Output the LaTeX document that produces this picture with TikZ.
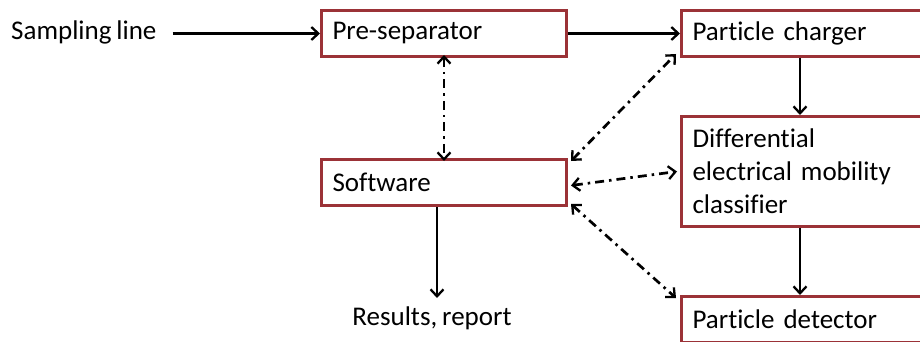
\documentclass[tikz,border=0pt]{standalone}
\usepackage{fontspec}
\setmainfont[Ligatures=NoCommon,WordSpace=0.8]{Carlito}
\usetikzlibrary{arrows.meta}
\definecolor{boxred}{RGB}{155,50,55}
\begin{document}
\begin{tikzpicture}[x=1pt,y=-1pt,
  font=\fontsize{27}{33}\selectfont,
  box/.style={draw=boxred, line width=3pt, fill=white, anchor=north west,
    inner xsep=11pt, inner ysep=0pt, align=left, text width=#1, minimum height=46pt},
  box/.default=223pt,
  flow/.style={line width=2.3pt, -{Straight Barb[length=7pt,width=13pt,line width=2.3pt]}},
  link/.style={line width=2.7pt, dash pattern=on 9pt off 5pt on 2.5pt off 5pt,
    {Straight Barb[length=7pt,width=13pt,line width=2.3pt]}-{Straight Barb[length=7pt,width=13pt,line width=2.3pt]}},
  plain/.style={inner sep=0pt}
]
\useasboundingbox (0,0) rectangle (920,342);
\fill[white] (0,0) rectangle (920,342);

\node[box] (pre) at (320,9) {Pre-separator};
\node[box=240pt] (chg) at (680,9) {Particle charger};
\node[box=240pt, minimum height=110pt] (dif) at (680,115) {Differential\\electrical mobility\\classifier};
\node[box] (soft) at (320,158) {Software};
\node[box=240pt, minimum height=46pt] (det) at (680,295) {Particle detector};

\node[plain, anchor=west] (samp) at (11,32) {Sampling line};
\node[plain] (res) at (432,318) {Results, report};

\draw[flow] ([xshift=16pt]samp.east |- pre.west) -- (pre.west);
\draw[flow] (pre.east) -- (chg.west |- pre.east);
\draw[flow] ([xshift=120pt]chg.south west) coordinate (c1) -- (c1 |- dif.north);
\draw[flow] (c1 |- dif.south) -- (c1 |- det.north);
\draw[flow] ([xshift=-7pt]soft.south) -- ([xshift=-7pt]soft.south |- 0,298);

\draw[link] ([yshift=3pt]pre.south) -- ([yshift=-3pt]soft.north);
\draw[link] ([shift={(3pt,-3pt)}]soft.north east) -- ([shift={(-4pt,4pt)}]chg.south west);
\draw[link] ([shift={(3pt,-3pt)}]soft.east) -- ([shift={(-3pt,0pt)}]dif.west);
\draw[link] ([shift={(3pt,3pt)}]soft.south east) -- ([shift={(-4pt,-3pt)}]det.north west);
\end{tikzpicture}
\end{document}
